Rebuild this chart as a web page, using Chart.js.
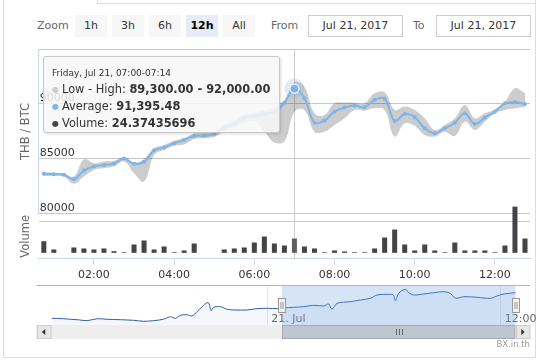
<!DOCTYPE html>
<html>
<head>
<meta charset="utf-8">
<script src="https://cdn.jsdelivr.net/npm/chart.js@4.4.1/dist/chart.umd.min.js"></script>
<style>
  body { margin: 0; background: #fff; font-family: "DejaVu Sans", sans-serif; }
  #wrap { position: relative; width: 545px; height: 360px; overflow: hidden; }
  .frame { position: absolute; background: #dddddd; }
  canvas { position: absolute; left: 0; }
  #mainChart { top: 0; }
  #navChart { top: 279px; }
  .rs-label { position: absolute; top: 15px; height: 22px; line-height: 22px; font-size: 11px; color: #666; }
  .rs-btn { position: absolute; top: 15px; width: 32px; height: 22px; line-height: 22px; text-align: center;
            font-size: 11px; color: #333; background: #f7f7f7; }
  .rs-btn.active { background: #e6ebf5; color: #000; font-weight: bold; }
  .rs-input { position: absolute; top: 15px; height: 22px; box-sizing: border-box; border: 1px solid #cccccc;
              line-height: 20px; text-align: center; font-size: 11px; color: #333; }
  #tooltip { position: absolute; left: 43px; top: 56px; width: 237px; height: 77px; box-sizing: border-box;
             background: rgba(247, 247, 247, 0.85); border: 1px solid #c8c8c8; border-radius: 3px;
             box-shadow: 1px 1px 3px rgba(0, 0, 0, 0.15); padding: 9px 0 0 8px; color: #333; }
  #tooltip .head { font-size: 9px; line-height: 15px; }
  #tooltip .row { font-size: 11.4px; line-height: 16px; white-space: nowrap; }
  #tooltip .dot { font-size: 8px; vertical-align: 1px; margin-right: 3px; }
  #credit { position: absolute; right: 15px; top: 339px; font-size: 8.5px; color: #999; }
</style>
</head>
<body>
<div id="wrap">
  <div class="frame" style="left:97px; top:0; width:1px; height:4px;"></div>
  <div class="frame" style="left:97px; top:3px; width:439px; height:1px;"></div>
  <div class="frame" style="left:535px; top:0; width:1px; height:358px;"></div>
  <div class="frame" style="left:3px; top:0; width:1px; height:358px;"></div>
  <div class="frame" style="left:3px; top:357px; width:533px; height:1px;"></div>

  <div class="rs-label" style="left:37px;">Zoom</div>
  <div id="buttons"></div>
  <div class="rs-label" style="left:271px;">From</div>
  <div class="rs-input" id="fromInput" style="left:308px; width:95px;"></div>
  <div class="rs-label" style="left:413px;">To</div>
  <div class="rs-input" id="toInput" style="left:436px; width:95px;"></div>

  <canvas id="mainChart" width="545" height="290"></canvas>
  <canvas id="navChart" width="545" height="70"></canvas>

  <div id="tooltip"></div>
  <div id="credit">BX.in.th</div>
</div>

<script>
// 15 minute slots shown in the main chart (Jul 21, 2017)
const SLOT_LABELS = [
  "00:45", "01:00", "01:15", "01:30", "01:45", "02:00", "02:15", "02:30", "02:45",
  "03:00", "03:15", "03:30", "03:45", "04:00", "04:15", "04:30", "04:45",
  "05:00", "05:15", "05:30", "05:45", "06:00", "06:15", "06:30", "06:45",
  "07:00", "07:15", "07:30", "07:45", "08:00", "08:15", "08:30", "08:45",
  "09:00", "09:15", "09:30", "09:45", "10:00", "10:15", "10:30", "10:45",
  "11:00", "11:15", "11:30", "11:45", "12:00", "12:15", "12:30", "12:45",
];
const AVG_PRICE = [
  83640, 83600, 83550, 83150, 83940, 84300, 84450, 84570, 85030,
  84550, 84730, 85790, 86030, 86420, 86730, 87090, 87100,
  87270, 87820, 88180, 88730, 88900, 89090, 89270, 90090,
  91395.48, 90520, 88300, 88490, 89300, 89670, 89850, 89700,
  90360, 90480, 88450, 89090, 88790, 87790, 87330, 87790,
  88300, 89150, 88180, 88760, 89300, 90060, 90150, 90000,
];
const HIGH_PRICE = [
  83760, 83750, 83700, 83390, 84970, 84600, 84760, 84820, 85150,
  84650, 85000, 85970, 86270, 86650, 86900, 87300, 87400,
  87500, 88100, 88500, 89000, 89200, 89400, 89700, 90400,
  92000, 91570, 89150, 89000, 90060, 90120, 90120, 90060,
  90970, 91060, 89450, 89760, 89450, 88700, 87640, 88090,
  88700, 89910, 88700, 89150, 89520, 90210, 91420, 90970,
];
const LOW_PRICE = [
  83450, 83450, 83400, 82730, 83390, 84000, 84150, 84300, 84760,
  83700, 82950, 85360, 85820, 86200, 86300, 86800, 86900,
  87000, 87500, 87900, 88300, 88400, 87500, 86500, 86600,
  89300, 89450, 87480, 87480, 88090, 88700, 89450, 89390,
  89600, 89450, 87030, 88240, 88000, 87180, 87030, 87480,
  87090, 88390, 87640, 88400, 89150, 89450, 89600, 89750,
];
const VOLUME = [
  19.8, 5.7, 0, 9.1, 7.4, 5.7, 7.4, 2.8, 1.1,
  14.2, 21.0, 5.7, 10.8, 1.1, 4.0, 15.9, 0,
  0, 5.7, 7.4, 9.1, 17.6, 27.8, 15.9, 12.5,
  24.37435696, 10.8, 7.4, 1.1, 4.0, 2.3, 1.1, 1.1,
  7.4, 26.1, 39.7, 14.2, 4.0, 14.2, 4.0, 1.1,
  17.6, 4.0, 4.0, 4.0, 1.1, 12.5, 78.8, 24.4,
];
const PRICE_TICKS = [80000, 85000, 90000, 95000];
const TIME_TICKS = ["02:00", "04:00", "06:00", "08:00", "10:00", "12:00"];

// navigator series: minutes from Jul 21 00:00, price
const NAV_MINUTES = [
  -664, -630, -607, -580, -556, -525, -494, -453, -413, -382,
  -351, -321, -299, -284, -268, -248, -232, -217, -201, -186,
  -180, -174, -166, -145, -124, -104, -63, -32, 0, 30,
  50, 80, 112, 143, 174, 189, 199, 215, 256, 287,
  318, 338, 379, 389, 395, 405, 426, 436, 451, 482,
  513, 544, 564, 580, 605, 647, 688, 708, 729, 765,
];
const NAV_PRICE = [
  79360, 79200, 78950, 78700, 78370, 79200, 78950, 78780, 78530, 78120,
  78370, 78950, 80030, 79360, 80610, 80860, 80320, 82100, 84180, 85840,
  85600, 82520, 83930, 84180, 83100, 82810, 82810, 83350, 83510, 83350,
  83640, 83900, 84180, 84760, 84470, 85300, 83100, 85590, 86250, 86960,
  87660, 89030, 89320, 89030, 86670, 89740, 91400, 89990, 89030, 89450,
  89990, 90400, 89740, 87660, 88330, 88080, 87660, 88620, 89450, 89990,
];
const NAV_TICKS = [0, 720];
const NAV_TICK_LABELS = ["21. Jul", "12:00"];
const SELECTED_RANGE = [45, 765];

const RANGE_BUTTONS = ["1h", "3h", "6h", "12h", "All"];
const ACTIVE_BUTTON = "12h";
const DATE_TEXT = "Jul 21, 2017";
const TOOLTIP_DAY = "Friday, Jul 21";
const HOVER_INDEX = 25;

const FONT = "DejaVu Sans";
Chart.defaults.font.family = FONT;
Chart.defaults.font.size = 11;

// range selector
const buttonsEl = document.getElementById("buttons");
RANGE_BUTTONS.forEach((name, i) => {
  const b = document.createElement("div");
  b.className = "rs-btn" + (name === ACTIVE_BUTTON ? " active" : "");
  b.style.left = (75 + i * 37) + "px";
  b.textContent = name;
  buttonsEl.appendChild(b);
});
document.getElementById("fromInput").textContent = DATE_TEXT;
document.getElementById("toInput").textContent = DATE_TEXT;

// tooltip
function fmt2(v) {
  return v.toLocaleString("en-US", { minimumFractionDigits: 2, maximumFractionDigits: 2 });
}
function slotEnd(label) {
  const [h, m] = label.split(":").map(Number);
  const t = h * 60 + m + 14;
  return String(Math.floor(t / 60)).padStart(2, "0") + ":" + String(t % 60).padStart(2, "0");
}
const hoverLabel = SLOT_LABELS[HOVER_INDEX];
document.getElementById("tooltip").innerHTML = `
  <div class="head">${TOOLTIP_DAY}, ${hoverLabel}-${slotEnd(hoverLabel)}</div>
  <div class="row"><span class="dot" style="color:#cccccc">\u25CF</span>Low - High: <b>${fmt2(LOW_PRICE[HOVER_INDEX])} - ${fmt2(HIGH_PRICE[HOVER_INDEX])}</b></div>
  <div class="row"><span class="dot" style="color:#7cb5ec">\u25CF</span>Average: <b>${fmt2(AVG_PRICE[HOVER_INDEX])}</b></div>
  <div class="row"><span class="dot" style="color:#434348">\u25CF</span>Volume: <b>${VOLUME[HOVER_INDEX].toFixed(8)}</b></div>
`;

const crosshairPlugin = {
  id: "crosshair",
  beforeDatasetsDraw(chart) {
    const ctx = chart.ctx;
    const x = Math.round(chart.scales.x.getPixelForValue(HOVER_INDEX)) + 0.5;
    ctx.save();
    ctx.strokeStyle = "#cccccc";
    ctx.lineWidth = 1;
    ctx.beginPath();
    ctx.moveTo(x, chart.chartArea.top);
    ctx.lineTo(x, chart.chartArea.bottom);
    ctx.stroke();
    ctx.restore();
  },
};

const hoverMarkerPlugin = {
  id: "hoverMarker",
  afterDatasetsDraw(chart) {
    const pt = chart.getDatasetMeta(0).data[HOVER_INDEX];
    const ctx = chart.ctx;
    ctx.save();
    ctx.fillStyle = "rgba(124, 181, 236, 0.25)";
    ctx.beginPath();
    ctx.arc(pt.x, pt.y, 10, 0, Math.PI * 2);
    ctx.fill();
    ctx.restore();
    pt.draw(ctx, chart.chartArea);
  },
};

new Chart(document.getElementById("mainChart"), {
  type: "line",
  data: {
    labels: SLOT_LABELS,
    datasets: [
      {
        label: "Average",
        data: AVG_PRICE,
        yAxisID: "y",
        borderColor: "#7cb5ec",
        backgroundColor: "#7cb5ec",
        borderWidth: 2,
        tension: 0.4,
        fill: false,
        pointRadius: (c) => (c.dataIndex === HOVER_INDEX ? 4.5 : 2),
        pointBorderWidth: (c) => (c.dataIndex === HOVER_INDEX ? 1 : 0),
        pointBorderColor: "#ffffff",
        pointBackgroundColor: "#7cb5ec",
      },
      {
        label: "High",
        data: HIGH_PRICE,
        yAxisID: "y",
        borderWidth: 0,
        pointRadius: 0,
        tension: 0.4,
        fill: "+1",
        backgroundColor: "rgba(0, 0, 0, 0.2)",
      },
      {
        label: "Low",
        data: LOW_PRICE,
        yAxisID: "y",
        borderWidth: 0,
        pointRadius: 0,
        tension: 0.4,
        fill: false,
      },
      {
        type: "bar",
        label: "Volume",
        data: VOLUME,
        yAxisID: "yv",
        clip: false,
        barPercentage: 0.5,
        categoryPercentage: 1,
        backgroundColor: (c) => (c.dataIndex === HOVER_INDEX ? "#5d5d62" : "#434348"),
      },
    ],
  },
  options: {
    responsive: false,
    animation: false,
    events: [],
    layout: { padding: { left: 19, right: 15, top: 49, bottom: 4 } },
    plugins: { legend: { display: false }, tooltip: { enabled: false } },
    scales: {
      x: {
        type: "category",
        offset: true,
        afterBuildTicks: (axis) => {
          axis.ticks = TIME_TICKS.map((t) => ({ value: SLOT_LABELS.indexOf(t) }));
        },
        grid: { drawOnChartArea: false, tickLength: 6, color: "#ccd6eb", offset: false },
        border: { color: "#ccd6eb" },
        ticks: { autoSkip: false, maxRotation: 0, padding: 4, color: "#333333" },
      },
      // volume pane first: stacked left axes are laid out bottom-up
      yv: {
        stack: "panes",
        stackWeight: 45,
        position: "left",
        min: -10.2,
        max: 66.5,
        afterBuildTicks: (axis) => {
          axis.ticks = [{ value: 52.8 }];
        },
        grid: { color: "#c8c8c8", drawTicks: false },
        border: { display: false },
        ticks: { display: false },
        title: {
          display: true,
          text: "Volume",
          color: "#666666",
          font: { size: 11.5 },
          padding: { top: 0, bottom: 4 },
        },
      },
      y: {
        stack: "panes",
        stackWeight: 165,
        position: "left",
        min: PRICE_TICKS[0],
        max: PRICE_TICKS[PRICE_TICKS.length - 1],
        afterBuildTicks: (axis) => {
          axis.ticks = PRICE_TICKS.map((v) => ({ value: v }));
        },
        grid: { color: "#c8c8c8", drawTicks: false },
        border: { color: "#ccd6eb" },
        ticks: {
          mirror: true,
          padding: 1,
          labelOffset: -6,
          color: "#333333",
          callback: (v) => (v === PRICE_TICKS[PRICE_TICKS.length - 1] ? "" : String(v)),
        },
        title: {
          display: true,
          text: "THB / BTC",
          color: "#666666",
          font: { size: 11.5 },
          padding: { top: 0, bottom: 4 },
        },
      },
    },
  },
  plugins: [crosshairPlugin, hoverMarkerPlugin],
});

// navigator + scrollbar
const navigatorPlugin = {
  id: "navigatorParts",
  afterDatasetsDraw(chart) {
    const ctx = chart.ctx;
    const xs = chart.scales.x;
    const { left, right, top, bottom } = chart.chartArea;
    const x0 = xs.getPixelForValue(SELECTED_RANGE[0]);
    const x1 = xs.getPixelForValue(SELECTED_RANGE[1]);
    ctx.save();

    // tick labels inside the navigator
    ctx.fillStyle = "#666666";
    ctx.font = "11px " + FONT;
    ctx.textBaseline = "middle";
    NAV_TICKS.forEach((v, i) => {
      ctx.fillText(NAV_TICK_LABELS[i], xs.getPixelForValue(v) + 4, bottom - 6);
    });

    // mask over the selected range
    ctx.fillStyle = "rgba(115, 165, 225, 0.3)";
    ctx.fillRect(x0, top, x1 - x0, bottom - top);

    // outline
    ctx.strokeStyle = "#b3b3b3";
    ctx.lineWidth = 1;
    ctx.beginPath();
    ctx.moveTo(left, Math.round(top) + 0.5);
    ctx.lineTo(right, Math.round(top) + 0.5);
    ctx.stroke();

    // scrollbar
    const sy = bottom;
    const sh = 14;
    ctx.fillStyle = "#eeeeee";
    ctx.fillRect(left, sy, right - left, sh);
    ctx.fillStyle = "#bfc6d0";
    ctx.fillRect(x0, sy, x1 - x0, sh);
    ctx.strokeStyle = "#a3abb8";
    ctx.strokeRect(Math.round(x0) + 0.5, sy + 0.5, x1 - x0 - 1, sh - 1);
    // rifles
    const mid = Math.round((x0 + x1) / 2) + 0.5;
    ctx.strokeStyle = "#666666";
    ctx.beginPath();
    [-3, 0, 3].forEach((d) => {
      ctx.moveTo(mid + d, sy + 4);
      ctx.lineTo(mid + d, sy + sh - 4);
    });
    ctx.stroke();
    // buttons
    [[left, -1], [right - 14.5, 1]].forEach(([bx, dir]) => {
      ctx.fillStyle = "#e6e6e6";
      ctx.fillRect(bx, sy, 14.5, sh);
      ctx.strokeStyle = "#cccccc";
      ctx.strokeRect(Math.round(bx) + 0.5, sy + 0.5, 13.5, sh - 1);
      const cx = bx + 7.25;
      const cy = sy + sh / 2;
      ctx.fillStyle = "#333333";
      ctx.beginPath();
      ctx.moveTo(cx + dir * 2, cy);
      ctx.lineTo(cx - dir * 1.5, cy - 3);
      ctx.lineTo(cx - dir * 1.5, cy + 3);
      ctx.closePath();
      ctx.fill();
    });

    // handles
    [x0, x1].forEach((hx) => {
      const hy = (top + bottom) / 2 - 7;
      const rx = Math.round(hx - 3.5) + 0.5;
      ctx.fillStyle = "#f2f2f2";
      ctx.fillRect(rx, hy, 7, 14);
      ctx.strokeStyle = "#999999";
      ctx.strokeRect(rx, hy + 0.5, 7, 14);
      ctx.beginPath();
      ctx.moveTo(rx + 2.5, hy + 4);
      ctx.lineTo(rx + 2.5, hy + 11);
      ctx.moveTo(rx + 4.5, hy + 4);
      ctx.lineTo(rx + 4.5, hy + 11);
      ctx.stroke();
    });
    ctx.restore();
  },
};

new Chart(document.getElementById("navChart"), {
  type: "line",
  data: {
    datasets: [
      {
        data: NAV_MINUTES.map((m, i) => ({ x: m, y: NAV_PRICE[i] })),
        borderColor: "#335cad",
        borderWidth: 1,
        pointRadius: 0,
        tension: 0.3,
        fill: "start",
        backgroundColor: "rgba(51, 92, 173, 0.05)",
      },
    ],
  },
  options: {
    responsive: false,
    animation: false,
    events: [],
    layout: { padding: { left: 36.5, right: 15, top: 6, bottom: 24 } },
    plugins: { legend: { display: false }, tooltip: { enabled: false } },
    scales: {
      x: {
        type: "linear",
        min: -712,
        max: 810,
        afterBuildTicks: (axis) => {
          axis.ticks = NAV_TICKS.map((v) => ({ value: v }));
        },
        grid: { color: "#e6e6e6", drawTicks: false },
        border: { display: false },
        ticks: { display: false },
      },
      y: { display: false, min: 76580, max: 93180 },
    },
  },
  plugins: [navigatorPlugin],
});
</script>
</body>
</html>
